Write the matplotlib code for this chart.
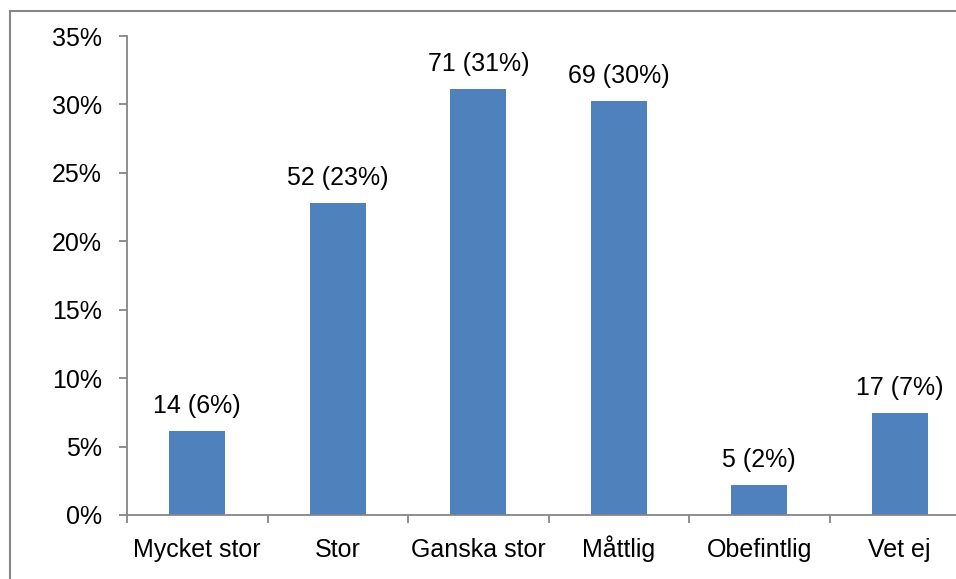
import matplotlib
matplotlib.use("Agg")
import matplotlib.pyplot as plt
import numpy as np
from matplotlib.patches import Rectangle
from matplotlib.ticker import FuncFormatter

categories = ["Mycket stor", "Stor", "Ganska stor", "Måttlig", "Obefintlig", "Vet ej"]
counts = [14, 52, 71, 69, 5, 17]

BAR_COLOR = "#4F81BD"
AXIS_COLOR = "#868686"
FONT_SIZE = 18

plt.rcParams["font.family"] = ["Liberation Sans", "DejaVu Sans"]

total = sum(counts)
shares = np.array(counts) / total
labels = [f"{c} ({round(s * 100)}%)" for c, s in zip(counts, shares)]

W, H = 956, 579
fig = plt.figure(figsize=(W / 100, H / 100), dpi=100)
# plot area spills past the right edge, as in the cropped original
ax = fig.add_axes([127 / W, 1 - 515 / H, 843 / W, (515 - 36) / H])

x = np.arange(len(categories))
ax.bar(x, shares, width=0.4, color=BAR_COLOR, zorder=2)
for xi, s, lab in zip(x, shares, labels):
    ax.annotate(lab, (xi, s), xytext=(0, 13), textcoords="offset points",
                ha="center", va="baseline", fontsize=FONT_SIZE, color="#000000")

ax.set_xlim(-0.5, len(categories) - 0.5)
ax.set_ylim(0, 0.35)
ax.set_yticks(np.arange(0, 0.351, 0.05))
ax.yaxis.set_major_formatter(FuncFormatter(lambda v, _: f"{round(v * 100)}%"))

# boundary ticks without labels, labels at category centres
ax.set_xticks(np.arange(-0.5, len(categories), 1.0))
ax.set_xticklabels([])
ax.set_xticks(x, minor=True)
ax.set_xticklabels(categories, minor=True)
for t in ax.get_xticklabels(minor=True):
    t.set_verticalalignment("baseline")
ax.tick_params(axis="x", which="major", length=6, width=1.3, color=AXIS_COLOR, direction="out")
ax.tick_params(axis="x", which="minor", length=0, pad=30, labelsize=FONT_SIZE)
ax.tick_params(axis="y", length=6, width=1.3, color=AXIS_COLOR, pad=12, labelsize=FONT_SIZE)

for side in ("top", "right"):
    ax.spines[side].set_visible(False)
for side in ("left", "bottom"):
    ax.spines[side].set_color(AXIS_COLOR)
    ax.spines[side].set_linewidth(1.3)

# outer chart border (right and bottom cut off in the original)
fig.patches.append(Rectangle((10 / W, -0.1), 1.1, 1 - 11 / H + 0.1,
                             transform=fig.transFigure, fill=False,
                             edgecolor=AXIS_COLOR, linewidth=1.5))

fig.savefig("out.png", dpi=100)
